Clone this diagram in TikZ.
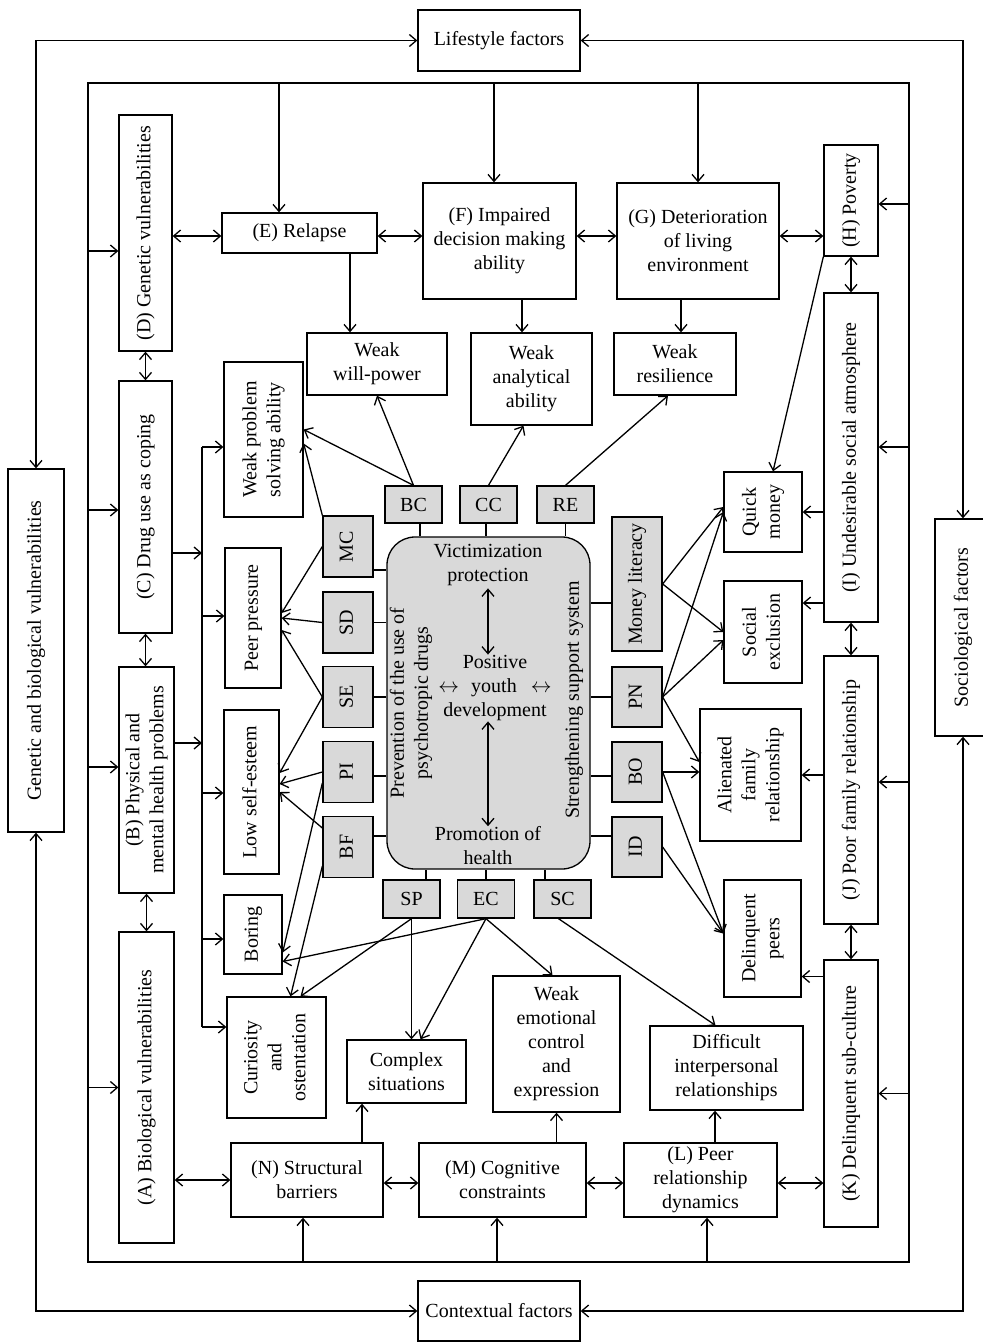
\documentclass[tikz,border=0pt]{standalone}
\usepackage{fontspec}
\setmainfont{Liberation Serif}
\usepackage{graphicx}
\usetikzlibrary{arrows.meta,positioning}
\definecolor{codegray}{gray}{0.85}
\newcommand{\vtext}[1]{\rotatebox{90}{\begin{tabular}{@{}c@{}}#1\end{tabular}}}
\tikzset{
  basic/.style    = {draw, line width=1.3pt, inner sep=0pt, align=center, fill=white, font=\fontsize{20}{24}\selectfont},
  gbox/.style     = {basic, fill=codegray},
  hub/.style      = {basic, fill=codegray, rounded corners=28pt},
  coretext/.style = {inner sep=0pt, align=center, font=\fontsize{20}{24}\selectfont}
}

\begin{document}
\begin{tikzpicture}[x=1pt, y=-1pt, line width=1.3pt,
  >={Straight Barb[length=7pt,width=12pt]}]
\useasboundingbox (0,0) rectangle (983,1342);

% outer factors
\node[basic, minimum width=162pt, minimum height=61pt] (life) at (499,40.5) {Lifestyle factors};
\node[basic, minimum width=162pt, minimum height=60pt] (ctx) at (499,1311) {Contextual factors};
\node[basic, minimum width=56pt, minimum height=363pt] (gen) at (36,650.5) {\vtext{Genetic and biological vulnerabilities}};
\node[basic, minimum width=56pt, minimum height=217pt] (soc) at (963,627.5) {\vtext{Sociological factors}};

\draw[<->] (gen.north) |- (life.west);
\draw[<->] (soc.north) |- (life.east);
\draw[<->] (gen.south) |- (ctx.west);
\draw[<->] (soc.south) |- (ctx.east);

% inner frame
\node[draw, fill=none, minimum width=821pt, minimum height=1179pt, inner sep=0pt] (frame) at (498.5,672.5) {};

% left column (A)-(D)
\node[basic, minimum width=53pt, minimum height=236pt] (D) at (145.5,233) {\vtext{(D) Genetic vulnerabilities}};
\node[basic, minimum width=53pt, minimum height=252pt] (C) at (145.5,507) {\vtext{(C) Drug use as coping}};
\node[basic, minimum width=55pt, minimum height=226pt] (B) at (146.5,780) {\vtext{(B) Physical and\\mental health problems}};
\node[basic, minimum width=55pt, minimum height=311pt] (A) at (146.5,1087.5) {\vtext{(A) Biological vulnerabilities}};

% right column (H)-(K)
\node[basic, minimum width=54pt, minimum height=111pt] (H) at (851,200.5) {\vtext{(H) Poverty}};
\node[basic, minimum width=54pt, minimum height=329pt] (I) at (851,457.5) {\vtext{(I) Undesirable social atmosphere}};
\node[basic, minimum width=54pt, minimum height=268pt] (J) at (851,790) {\vtext{(J) Poor family relationship}};
\node[basic, minimum width=54pt, minimum height=267pt] (K) at (851,1093.5) {\vtext{(K) Delinquent sub-culture}};

% top row (E)-(G)
\node[basic, minimum width=155pt, minimum height=40pt] (E) at (299.5,233) {(E) Relapse};
\node[basic, minimum width=153pt, minimum height=116pt] (F) at (499.5,241) {(F) Impaired\\decision making\\ability};
\node[basic, minimum width=162pt, minimum height=116pt] (G) at (698,241) {(G) Deterioration\\of living\\environment};

% bottom row (L)-(N)
\node[basic, minimum width=152pt, minimum height=74pt] (N) at (307,1180) {(N) Structural\\barriers};
\node[basic, minimum width=167pt, minimum height=74pt] (M) at (502.5,1180) {(M) Cognitive\\constraints};
\node[basic, minimum width=153pt, minimum height=74pt] (L) at (700.5,1180) {(L) Peer\\relationship\\dynamics};

% frame to the factors
\draw[->] ([yshift=-18pt]frame.west |- D.west) -- ([yshift=-18pt]D.west);
\draw[->] ([yshift=-3pt]frame.west |- C.west) -- ([yshift=-3pt]C.west);
\draw[->] ([yshift=13pt]frame.west |- B.west) -- ([yshift=13pt]B.west);
\draw[->] (frame.west |- A.west) -- (A.west);
\draw[->] ([yshift=-3.5pt]frame.east |- H.east) -- ([yshift=-3.5pt]H.east);
\draw[->] ([yshift=10.5pt]frame.east |- I.east) -- ([yshift=10.5pt]I.east);
\draw[->] ([yshift=8pt]frame.east |- J.east) -- ([yshift=8pt]J.east);
\draw[->] (frame.east |- K.east) -- (K.east);
\draw[->] ([xshift=-20.5pt]frame.north -| E.north) -- ([xshift=-20.5pt]E.north);
\draw[->] ([xshift=-5.5pt]frame.north -| F.north) -- ([xshift=-5.5pt]F.north);
\draw[->] (frame.north -| G.north) -- (G.north);
\draw[->] ([xshift=-4pt]frame.south -| N.south) -- ([xshift=-4pt]N.south);
\draw[->] ([xshift=-5.5pt]frame.south -| M.south) -- ([xshift=-5.5pt]M.south);
\draw[->] ([xshift=6.5pt]frame.south -| L.south) -- ([xshift=6.5pt]L.south);

% links between the factors
\draw[<->] (D.south) -- (C.north);
\draw[<->] (C.south) -- (C.south |- B.north);
\draw[<->] (B.south) -- (A.north);
\draw[<->] (H.south) -- (I.north);
\draw[<->] (I.south) -- (J.north);
\draw[<->] (J.south) -- (K.north);
\draw[<->] ([yshift=-3pt]D.east |- E.east) -- ([yshift=-3pt]E.west);
\draw[<->] ([yshift=-3pt]E.east) -- ([yshift=-3pt]E.east -| F.west);
\draw[<->] ([yshift=5pt]F.east) -- ([yshift=5pt]F.east -| G.west);
\draw[<->] ([yshift=5pt]G.east) -- ([yshift=5pt]G.east -| H.west);
\draw[<->] (A.east |- N.west) -- (N.west);
\draw[<->] ([yshift=-3pt]N.east) -- ([yshift=-3pt]N.east -| M.west);
\draw[<->] ([yshift=-3pt]M.east) -- ([yshift=-3pt]M.east -| L.west);
\draw[<->] ([yshift=-3pt]L.east) -- ([yshift=-3pt]L.east -| K.west);

% outcomes
\node[basic, minimum width=140pt, minimum height=62pt] (will) at (377,364) {Weak\\will-power};
\node[basic, minimum width=121pt, minimum height=92pt] (anal) at (531.5,379) {Weak\\analytical\\ability};
\node[basic, minimum width=122pt, minimum height=62pt] (resil) at (675,364) {Weak\\resilience};
\node[basic, minimum width=79pt, minimum height=155pt] (wps) at (263.5,439.5) {\vtext{Weak problem\\solving ability}};
\node[basic, minimum width=56pt, minimum height=140pt] (peer) at (253,618) {\vtext{Peer pressure}};
\node[basic, minimum width=55pt, minimum height=164pt] (lse) at (251.5,792) {\vtext{Low self-esteem}};
\node[basic, minimum width=58pt, minimum height=79pt] (boring) at (253,934.5) {\vtext{Boring}};
\node[basic, minimum width=99pt, minimum height=121pt] (curio) at (276.5,1057.5) {\vtext{Curiosity\\and\\ostentation}};
\node[basic, minimum width=78pt, minimum height=80pt] (qm) at (763,512) {\vtext{Quick\\money}};
\node[basic, minimum width=78pt, minimum height=102pt] (sx) at (763,632) {\vtext{Social\\exclusion}};
\node[basic, minimum width=101pt, minimum height=132pt] (alien) at (750.5,775) {\vtext{Alienated\\family\\relationship}};
\node[basic, minimum width=77pt, minimum height=117pt] (dpeer) at (762.5,938.5) {\vtext{Delinquent\\peers}};
\node[basic, minimum width=119pt, minimum height=63pt] (cplx) at (406.5,1071.5) {Complex\\situations};
\node[basic, minimum width=127pt, minimum height=136pt] (emo) at (556.5,1044) {Weak\\emotional\\control\\and\\expression};
\node[basic, minimum width=153pt, minimum height=84pt] (diff) at (726.5,1068) {Difficult\\interpersonal\\relationships};

\draw[->] ([xshift=50.5pt]E.south) -- ([xshift=50.5pt]E.south |- will.north);
\draw[->] ([xshift=22.5pt]F.south) -- ([xshift=22.5pt]F.south |- anal.north);
\draw[->] ([xshift=-17pt]G.south) -- ([xshift=-17pt]G.south |- resil.north);
\draw[->] ([xshift=-44.5pt]cplx.south |- N.north) -- ([xshift=-44.5pt]cplx.south);
\draw[->] (emo.south |- M.north) -- (emo.south);
\draw[->] ([xshift=-11.5pt]diff.south |- L.north) -- ([xshift=-11.5pt]diff.south);
\draw[->] (H.south west) -- ([xshift=10pt]qm.north);
\draw[->] (qm.east -| I.west) -- (qm.east);
\draw[->] ([yshift=29pt]sx.east -| I.west) -- ([yshift=29pt]sx.east);
\draw[->] (alien.east -| J.west) -- (alien.east);
\draw[->] ([yshift=-38pt]dpeer.east -| K.west) -- ([yshift=-38pt]dpeer.east);

% bracket from (C) and (B)
\coordinate (brtop) at (202,447);
\coordinate (brbot) at (202,1027);
\draw (brtop) -- (brbot);
\draw[->] ([yshift=-46pt]C.east) -- ([yshift=-46pt]C.east -| brtop);
\draw[->] ([yshift=37pt]B.east) -- ([yshift=37pt]B.east -| brtop);
\draw[->] (brtop) -- (brtop -| wps.west);
\foreach \n/\dy in {peer/2, lse/-1, boring/-4.5}
  \draw[->] ([yshift=\dy pt]\n.west -| brtop) -- ([yshift=\dy pt]\n.west);
\draw[->] (brbot) -- (brbot -| curio.west);

% central hub
\node[hub, minimum width=203pt, minimum height=332pt] (hub) at (488.5,703) {};
\node[coretext] (victim) at (488,565) {Victimization\\protection};
\node[coretext] (pyd) at (495,688) {Positive\\$\leftrightarrow$\hspace{12pt}youth\hspace{14pt}$\leftrightarrow$\\development};
\node[coretext] (promo) at (488,846) {Promotion of\\health};
\node[coretext] (prev) at (411,703) {\vtext{Prevention of the use of\\psychotropic drugs}};
\node[coretext] (strength) at (574,700) {\vtext{Strengthening support system}};
\draw[<->] ([yshift=-2pt]victim.south) -- (victim.south |- pyd.north);
\draw[<->] (pyd.south -| victim.south) -- (victim.south |- promo.north);

% coded strategies round the hub
\foreach \name/\x/\dx in {BC/413.5/6.5, CC/488.5/-2.5, RE/565.5/0}{
  \node[gbox, minimum width=57pt, minimum height=37pt] (\name) at (\x,504.5) {\name};
  \draw ([xshift=\dx pt]\name.south) -- ([xshift=\dx pt]\name.south |- hub.north);
}
\foreach \name/\x/\dx in {SP/411.5/14.5, EC/486/0, SC/562.5/-17.5}{
  \node[gbox, minimum width=57pt, minimum height=38pt] (\name) at (\x,899) {\name};
  \draw ([xshift=\dx pt]\name.north) -- ([xshift=\dx pt]\name.north |- hub.south);
}
\foreach \name/\y/\dy in {MC/546.5/-23.5, SD/622.5/0, SE/697/0, PI/772/-4, BF/847/11}{
  \node[gbox, minimum width=50pt, minimum height=61pt] (\name) at (348,\y) {\vtext{\name}};
  \draw ([yshift=\dy pt]\name.east) -- ([yshift=\dy pt]\name.east -| hub.west);
}
\node[gbox, minimum width=50pt, minimum height=134pt] (ML) at (637,584) {\vtext{Money literacy}};
\draw ([yshift=-19pt]ML.west) -- ([yshift=-19pt]ML.west -| hub.east);
\foreach \name/\y/\dy in {PN/697/0, BO/772/-4, ID/847/11}{
  \node[gbox, minimum width=50pt, minimum height=60pt] (\name) at (637,\y) {\vtext{\name}};
  \draw ([yshift=\dy pt]\name.west) -- ([yshift=\dy pt]\name.west -| hub.east);
}

% strategies to outcomes
\draw[->] (BC.north) -- (will.south);
\draw[->] (BC.north) -- ([yshift=10pt]wps.east);
\draw[->] (CC.north) -- ([xshift=-8pt]anal.south);
\draw[->] (RE.north) -- ([xshift=-7pt]resil.south);
\draw[->] (MC.north west) -- ([yshift=-4pt]wps.east);
\draw[->] (MC.west) -- ([yshift=5pt]peer.east);
\draw[->] (SD.west) -- (peer.east);
\draw[->] (SE.west) -- ([yshift=-12pt]peer.east);
\draw[->] (SE.west) -- ([yshift=19pt]lse.east);
\draw[->] (PI.west) -- ([yshift=8pt]lse.east);
\draw[->] ([yshift=-11pt]PI.west) -- ([yshift=-18pt]boring.east);
\draw[->] ([yshift=19pt]BF.west) -- (lse.east);
\draw[->] ([yshift=-19pt]BF.west) -- ([xshift=14pt]curio.north);
\draw[->] (SP.south) -- ([xshift=24pt]curio.north);
\draw[->] (SP.south) -- (SP.south |- cplx.north);
\draw[->] (EC.south) -- ([yshift=-27pt]boring.east);
\draw[->] (EC.south) -- ([xshift=14pt]cplx.north);
\draw[->] (EC.south) -- ([xshift=-4pt]emo.north);
\draw[->] ([xshift=-4pt]SC.south) -- ([xshift=-11pt]diff.north);
\draw[->] (ML.east) -- ([yshift=5pt]qm.west);
\draw[->] (ML.east) -- (sx.west);
\draw[->] (PN.east) -- (qm.west);
\draw[->] (PN.east) -- ([yshift=-8pt]sx.west);
\draw[->] (PN.east) -- ([yshift=13pt]alien.west);
\draw[->] (BO.east) -- (BO.east -| alien.west);
\draw[->] (BO.east) -- ([yshift=5pt]dpeer.west);
\draw[->] (ID.east) -- ([yshift=5pt]dpeer.west);
\end{tikzpicture}
\end{document}
